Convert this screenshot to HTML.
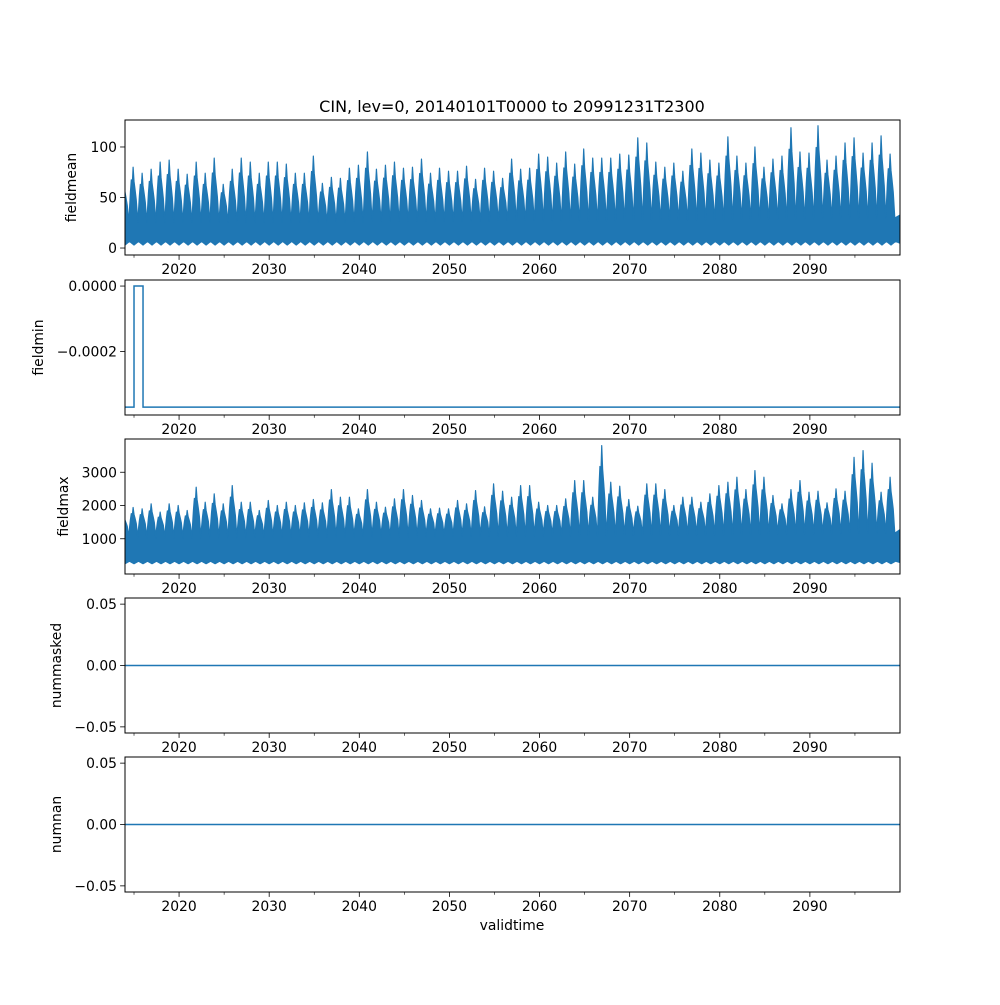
<!DOCTYPE html>
<html><head><meta charset="utf-8"><style>
body{margin:0;background:#fff}
svg text{font-family:"DejaVu Sans","Liberation Sans",sans-serif;fill:#000}
</style></head><body>
<svg id="fig" width="1000" height="1000" viewBox="0 0 1000 1000" xmlns="http://www.w3.org/2000/svg">
<rect width="1000" height="1000" fill="#fff"/>
<text x="512" y="112" font-size="16" text-anchor="middle">CIN, lev=0, 20140101T0000 to 20991231T2300</text>
<text x="512" y="930" font-size="13.9" text-anchor="middle">validtime</text>
</svg>
<script>
const years=[];for(let y=2014;y<=2099;y++)years.push(y);
const meanPeaks=[65,80,74,78,85,87,78,73,85,74,89,63,78,89,85,74,85,85,83,74,74,91,64,70,69,79,82,95,78,82,85,79,80,88,74,79,76,76,81,68,79,76,69,88,78,79,93,90,84,95,83,98,89,89,89,93,92,109,104,85,80,84,76,98,94,87,84,110,91,84,100,80,88,91,119,95,94,121,87,91,104,109,94,104,111,93];
const meanBase=[30,30,30,30,30,30,30,30,30,30,30,30,30,30,30,30,30,30,30,30,30,30,30,30,30,30,30,31,31,31,31,31,31,31,31,31,31,31,31,31,31,32,32,32,32,32,32,32,32,32,32,32,32,32,32,33,33,33,33,33,33,33,33,33,33,33,33,34,34,34,34,34,34,34,34,34,34,35,35,35,35,35,35,35,35,35];
const maxPeaks=[1700,1940,1900,2050,1800,2050,2000,1850,2550,2100,2350,2050,2600,2100,2100,1850,2150,2000,2100,2000,2080,2180,2080,2480,2250,2250,1900,2480,2100,1950,2200,2480,2300,2150,1900,1920,1900,2150,2050,2450,1960,2650,2430,2250,2600,2600,2100,2000,2000,2200,2750,2750,2250,3800,2700,2580,2180,1980,2650,2650,2480,2000,2250,2250,2100,2350,2600,2700,2850,2480,3050,2850,2300,2050,2480,2750,2400,2430,2080,2500,2430,3450,3650,3270,2400,2850];
const maxBase=[1200,1200,1200,1200,1200,1200,1200,1200,1210,1210,1210,1210,1210,1210,1220,1220,1220,1220,1220,1220,1230,1230,1230,1230,1230,1230,1240,1240,1240,1240,1240,1250,1250,1250,1250,1250,1260,1260,1260,1260,1260,1270,1270,1270,1270,1270,1280,1280,1280,1280,1280,1290,1290,1290,1290,1300,1300,1300,1300,1300,1310,1310,1310,1310,1320,1320,1320,1320,1330,1330,1330,1330,1340,1340,1340,1340,1350,1350,1350,1350,1360,1360,1360,1360,1370,1370];
const minSteps=[[2014,-0.00037],[2015,0],[2016,-0.00037],[2100,-0.00037]];
const panels=[
 {name:'fieldmean',top:120,yr:[-6.9,126.7],ticks:[0,50,100],labels:['0','50','100'],lx:66},
 {name:'fieldmin',top:280,yr:[-0.000394,0.0000185],ticks:[0,-0.0002],labels:['0.0000','\u22120.0002'],lx:33},
 {name:'fieldmax',top:439,yr:[-60,4000],ticks:[1000,2000,3000],labels:['1000','2000','3000'],lx:58},
 {name:'nummasked',top:598,yr:[-0.055,0.055],ticks:[-0.05,0,0.05],labels:['\u22120.05','0.00','0.05'],lx:51},
 {name:'numnan',top:757,yr:[-0.055,0.055],ticks:[-0.05,0,0.05],labels:['\u22120.05','0.00','0.05'],lx:51}];
const NS='http://www.w3.org/2000/svg',svg=document.getElementById('fig');
const X0=125,X1=900,H=135,C='#1f77b4';
const xs=t=>X0+(t-2014)/(2100-2014)*(X1-X0);
function mk(tag,at,par){const e=document.createElementNS(NS,tag);for(const k in at)e.setAttribute(k,at[k]);(par||svg).appendChild(e);return e;}
panels.forEach((p,i)=>{
 const g=mk('g',{});
 
 
 const ys=v=>p.top+H-(v-p.yr[0])/(p.yr[1]-p.yr[0])*H;
 const cid='c'+i;const cp=mk('clipPath',{id:cid},g);mk('rect',{x:X0,y:p.top,width:X1-X0,height:H},cp);
 const dg=mk('g',{'clip-path':'url(#'+cid+')'},g);
 if(i===0||i===2){
  const pk=i===0?meanPeaks:maxPeaks,bs=i===0?meanBase:maxBase,lo=i===0?3:250;
  let d='M'+xs(2013.4)+','+ys(lo);
  years.forEach((y,k)=>{
   const f=r=>bs[k]+(pk[k]-bs[k])*r;
   d+=' L'+xs(y-0.55)+','+ys(bs[k])+' L'+xs(y-0.4)+','+ys(f(0.5))+' L'+xs(y-0.3)+','+ys(f(0.75))+' L'+xs(y-0.18)+','+ys(f(0.7))+' L'+xs(y-0.1)+','+ys(pk[k])+' L'+xs(y)+','+ys(f(0.72))+' L'+xs(y+0.12)+','+ys(f(0.55))+' L'+xs(y+0.25)+','+ys(f(0.35))+' L'+xs(y+0.42)+','+ys(bs[k]*0.85);
  });
  d+=' L'+xs(2100.5)+','+ys(bs[85])+' L'+xs(2100.5)+','+ys(lo);
  years.slice().reverse().forEach(y=>{d+=' L'+xs(y+0.5)+','+ys(lo*(i===0?2.2:1.3))+' L'+xs(y)+','+ys(lo);});
  d+='Z';
  const s=mk('path',{d:d,fill:C,stroke:C,'stroke-width':1.2,'stroke-linejoin':'round'},dg);
  
  
 } else if(i===1){
  let d='';minSteps.forEach((s,k)=>{d+=(k?' H'+xs(s[0])+' V':'M'+xs(s[0])+',')+ys(s[1]);});
  const s=mk('path',{d:d,fill:'none',stroke:C,'stroke-width':1.5},dg);
  
  
 } else {
  const s=mk('line',{x1:X0,x2:X1,y1:ys(0),y2:ys(0),stroke:C,'stroke-width':1.5},dg);
  
  
 }
 mk('rect',{x:X0,y:p.top,width:X1-X0,height:H,fill:'none',stroke:'#000','stroke-width':1},g);
 p.ticks.forEach((v,k)=>{const y=ys(v);mk('line',{x1:X0-4.9,x2:X0,y1:y,y2:y,stroke:'#000','stroke-width':0.8},g);
  const t=mk('text',{x:X0-8,y:y+5,'font-size':13.9,'text-anchor':'end'},g);t.textContent=p.labels[k];
  
  });
 const yl=mk('text',{x:0,y:0,'font-size':13.9,'text-anchor':'middle',transform:'translate('+(p.lx+10)+','+(p.top+H/2)+') rotate(-90)'},g);
 yl.textContent=p.name;
 
 
 const b=p.top+H;
 for(let y=2015;y<2100;y+=5){const x=xs(y),maj=y%10===0;
  mk('line',{x1:x,x2:x,y1:b,y2:b+(maj?4.9:2.8),stroke:'#000','stroke-width':maj?0.8:0.6},g);
  if(maj){const t=mk('text',{x:x,y:b+19,'font-size':13.9,'text-anchor':'middle'},g);t.textContent=y;
   
   }}
});
</script>
</body></html>
